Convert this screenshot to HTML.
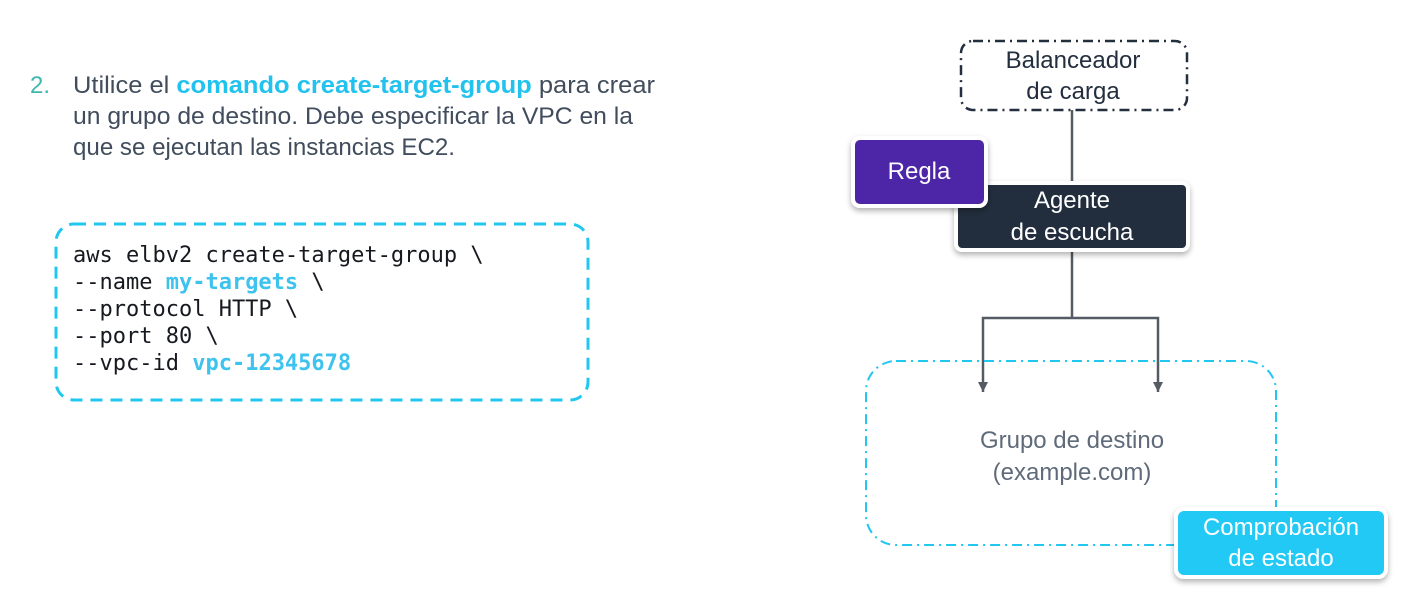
<!DOCTYPE html>
<html><head><meta charset="utf-8"><style>
html,body{margin:0;padding:0;background:#fff;width:1412px;height:596px;overflow:hidden}
svg{display:block}
.t{font-family:"Liberation Sans",sans-serif;font-size:24px;fill:#414d5c}
.m{font-family:"DejaVu Sans Mono","Liberation Mono",monospace;font-size:22px;fill:#16191f}
</style></head><body>
<svg width="1412" height="596" viewBox="0 0 1412 596" xmlns="http://www.w3.org/2000/svg">
<defs>
<filter id="sh" x="-20%" y="-20%" width="140%" height="150%"><feDropShadow dx="0" dy="3" stdDeviation="3" flood-color="#000" flood-opacity="0.3"/></filter>
</defs>
<text x="30" y="93" class="t" style="fill:#3fb8af">2.</text>
<text x="73" y="93" class="t" textLength="582" lengthAdjust="spacingAndGlyphs">Utilice el <tspan style="fill:#22c2ef;font-weight:bold">comando create-target-group</tspan> para crear</text>
<text x="73" y="124" class="t" textLength="560" lengthAdjust="spacingAndGlyphs">un grupo de destino. Debe especificar la VPC en la</text>
<text x="73" y="155" class="t" textLength="382" lengthAdjust="spacingAndGlyphs">que se ejecutan las instancias EC2.</text>
<rect x="56" y="224" width="532" height="176" rx="18" fill="none" stroke="#22c7f0" stroke-width="3" stroke-dasharray="12 8"/>
<text x="73" y="262" class="m">aws elbv2 create-target-group \</text>
<text x="73" y="289" class="m">--name <tspan style="fill:#3ec3ee;font-weight:bold">my-targets</tspan> \</text>
<text x="73" y="316" class="m">--protocol HTTP \</text>
<text x="73" y="343" class="m">--port 80 \</text>
<text x="73" y="370" class="m">--vpc-id <tspan style="fill:#3ec3ee;font-weight:bold">vpc-12345678</tspan></text>

<rect x="961" y="41" width="226" height="69" rx="12" fill="none" stroke="#232f3e" stroke-width="2.5" stroke-dasharray="10 5 2 5"/>
<text x="1073" y="68" class="t" text-anchor="middle" style="fill:#232f3e">Balanceador</text>
<text x="1073" y="99" class="t" text-anchor="middle" style="fill:#232f3e">de carga</text>
<line x1="1072" y1="110" x2="1072" y2="183" stroke="#545b64" stroke-width="2.5"/>
<line x1="1072" y1="250" x2="1072" y2="318" stroke="#545b64" stroke-width="2.5"/>
<polyline points="983,392 983,318 1158,318 1158,392" fill="none" stroke="#545b64" stroke-width="2.5"/>
<path d="M978,382 L988,382 L983,392 Z M1153,382 L1163,382 L1158,392 Z" fill="#545b64"/>

<rect x="956" y="183" width="232" height="67" rx="6" fill="#232f3e" stroke="#fff" stroke-width="4" filter="url(#sh)"/>
<text x="1072" y="208" class="t" text-anchor="middle" style="fill:#fff">Agente</text>
<text x="1072" y="240" class="t" text-anchor="middle" style="fill:#fff">de escucha</text>
<rect x="853" y="138" width="133" height="68" rx="7" fill="#4d27a8" stroke="#fff" stroke-width="4" filter="url(#sh)"/>
<text x="919" y="179" class="t" text-anchor="middle" style="fill:#fff">Regla</text>

<rect x="866" y="361" width="410" height="184" rx="30" fill="none" stroke="#22c7f0" stroke-width="2" stroke-dasharray="10 5 2 5"/>
<text x="1072" y="448" class="t" text-anchor="middle" style="fill:#5f6b7a">Grupo de destino</text>
<text x="1072" y="480" class="t" text-anchor="middle" style="fill:#5f6b7a">(example.com)</text>
<rect x="1176" y="509" width="210" height="68" rx="8" fill="#20c9f5" stroke="#fff" stroke-width="4" filter="url(#sh)"/>
<text x="1281" y="535" class="t" text-anchor="middle" style="fill:#fff">Comprobación</text>
<text x="1281" y="566" class="t" text-anchor="middle" style="fill:#fff">de estado</text>
</svg>
</body></html>
